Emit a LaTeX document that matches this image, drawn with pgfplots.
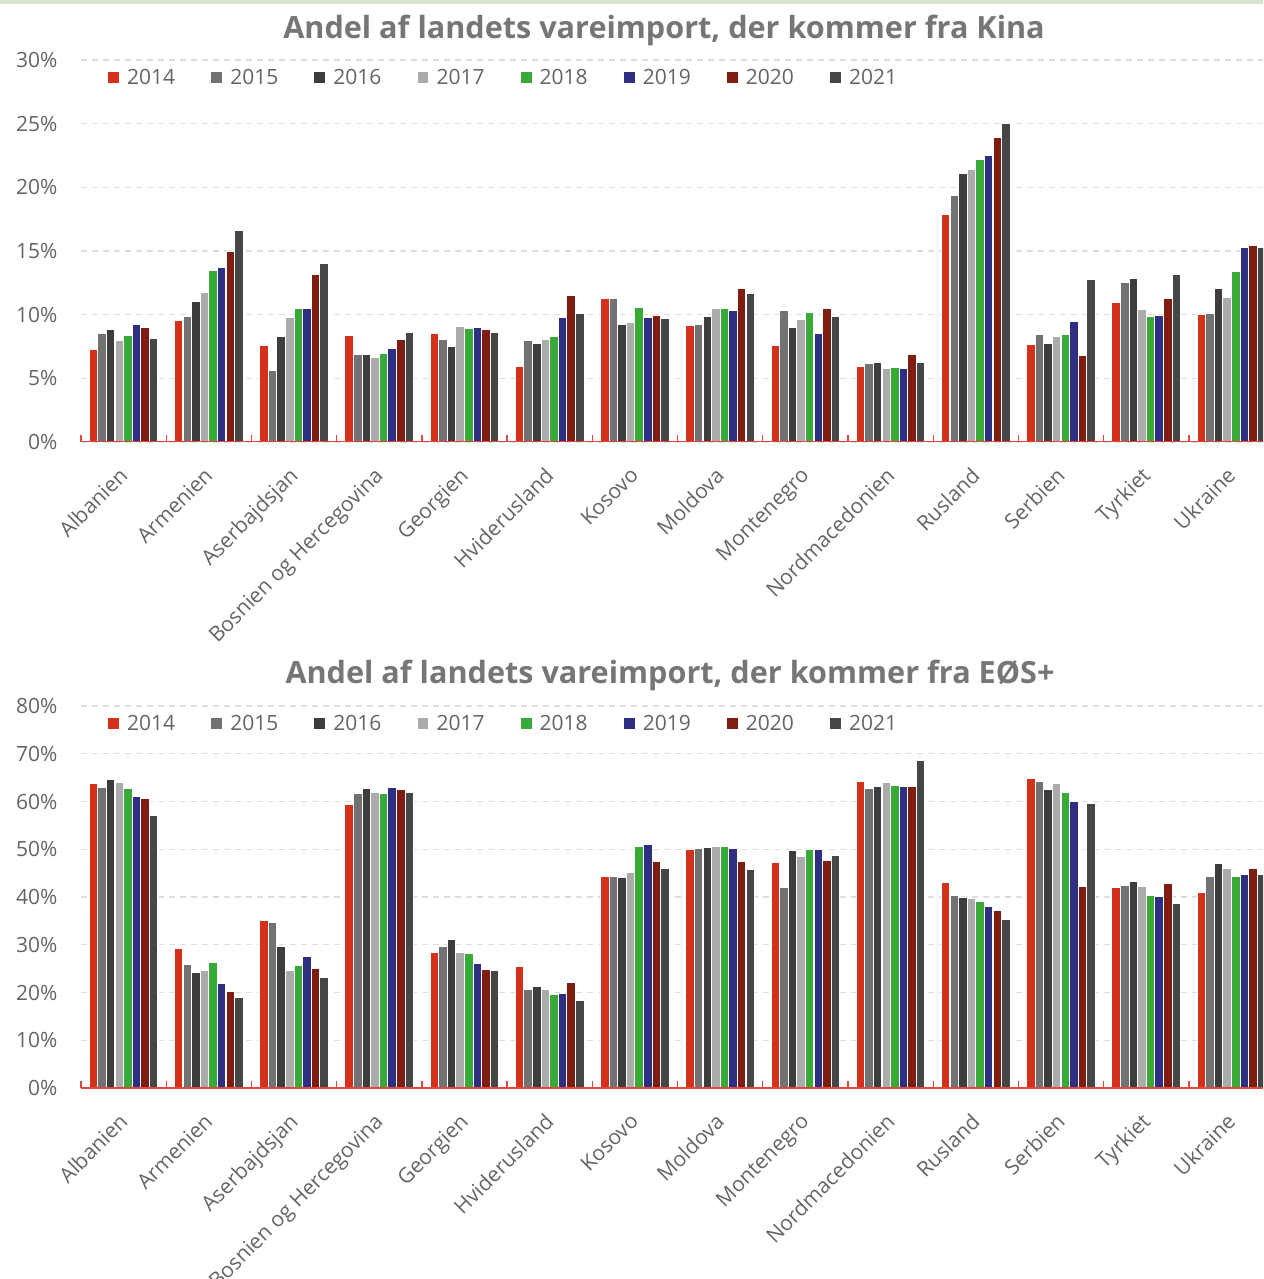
\documentclass[border=0pt]{standalone}
\usepackage{pgfplots}
\pgfplotsset{compat=1.18}
\usepackage{pgfplotstable}
\usepackage{fontspec}
\setmainfont{Open Sans}

\definecolor{c2014}{RGB}{211,49,26}
\definecolor{c2015}{RGB}{114,114,114}
\definecolor{c2016}{RGB}{61,61,61}
\definecolor{c2017}{RGB}{171,171,171}
\definecolor{c2018}{RGB}{56,170,56}
\definecolor{c2019}{RGB}{46,47,130}
\definecolor{c2020}{RGB}{127,29,17}
\definecolor{c2021}{RGB}{70,70,70}
\definecolor{axisred}{RGB}{224,72,60}
\definecolor{gridgray}{RGB}{222,222,222}
\definecolor{labelgray}{RGB}{100,100,100}
\definecolor{titlegray}{RGB}{118,118,118}
\definecolor{topband}{RGB}{216,228,208}

\pgfplotstableread{
x a b c d e f g h
0 7.30 8.53 8.85 7.98 8.40 9.21 9.03 8.17
1 9.53 9.84 11.02 11.75 13.51 13.69 14.97 16.60
2 7.59 5.60 8.27 9.76 10.45 10.52 13.19 14.06
3 8.40 6.91 6.86 6.60 6.96 7.33 8.04 8.59
4 8.53 8.04 7.49 9.08 8.90 9.03 8.85 8.59
5 5.92 7.98 7.72 8.04 8.27 9.76 11.52 10.10
6 11.26 11.26 9.27 9.35 10.58 9.76 9.90 9.71
7 9.14 9.21 9.84 10.45 10.45 10.31 12.02 11.70
8 7.59 10.31 9.03 9.66 10.16 8.53 10.52 9.84
9 5.92 6.13 6.23 5.81 5.86 5.81 6.91 6.28
10 17.85 19.35 21.07 21.44 22.20 22.51 23.93 25.00
11 7.64 8.46 7.77 8.27 8.46 9.45 6.78 12.75
12 10.94 12.51 12.83 10.39 9.84 9.90 11.26 13.14
13 10.00 10.08 12.02 11.39 13.38 15.31 15.42 15.24
}\kina

\pgfplotstableread{
x a b c d e f g h
0 63.73 62.89 64.57 63.94 62.75 61.15 60.66 57.02
1 29.28 25.79 24.18 24.67 26.21 21.80 20.20 19.01
2 35.08 34.59 29.63 24.67 25.65 27.46 25.02 23.06
3 59.47 61.64 62.75 61.91 61.64 62.89 62.47 61.85
4 28.44 29.63 31.10 28.44 28.09 26.00 24.81 24.67
5 25.44 20.68 21.17 20.55 19.50 19.78 22.15 18.31
6 44.23 44.23 44.09 45.21 50.52 51.01 47.38 45.91
7 49.90 50.17 50.31 50.52 50.66 50.17 47.52 45.70
8 47.17 42.07 49.76 48.50 49.90 49.90 47.73 48.71
9 64.29 62.75 63.10 63.94 63.45 63.10 63.10 68.62
10 43.05 40.25 39.90 39.76 39.06 38.09 37.11 35.29
11 64.92 64.29 62.61 63.80 61.91 59.96 42.21 59.68
12 42.07 42.35 43.19 42.21 40.39 40.11 42.77 38.57
13 40.88 44.37 47.03 46.05 44.23 44.72 45.91 44.72
}\eos

\newcommand{\lblfont}{\fontsize{21pt}{25pt}\selectfont}
\newcommand{\ttlfont}{\bfseries\fontsize{30.6pt}{36pt}\selectfont}

\pgfplotsset{
  mybar/.style={draw=white, line width=1.1pt,
    legend image code/.code={\fill[##1] (0pt,-6pt) rectangle (12pt,6pt);}},
  chart/.style={
    scale only axis, width=1182pt, height=382pt,
    xmin=-0.5, xmax=13.37, ymin=0,
    ybar=0pt, bar width=8.6pt,
    axis line style={draw=none},
    major tick length=0pt,
    xtick pos=lower, ytick pos=left,
    tick style={draw=axisred, line width=1.4pt},
    xtick={0,...,13},
    xticklabels={Albanien,Armenien,Aserbajdsjan,Bosnien og Hercegovina,Georgien,Hviderusland,Kosovo,Moldova,Montenegro,Nordmacedonien,Rusland,Serbien,Tyrkiet,Ukraine},
    xticklabel style={xshift=-6pt, yshift=-21pt, rotate=45, anchor=north east, font=\lblfont, text=labelgray, inner sep=2pt},
    yticklabel style={font=\lblfont, text=labelgray, anchor=east, xshift=-20pt},
    extra x ticks={-0.5,0.5,...,13.5},
    extra x tick labels={},
    extra x tick style={major tick length=7pt, tick align=inside},
    ymajorgrids,
    major grid style={draw=gridgray, line width=1.3pt, dash pattern=on 6pt off 5pt},
    legend columns=8,
    legend style={draw=none, fill=none, inner sep=0pt, font=\lblfont, text=labelgray,
      anchor=west, legend cell align=left,
      /tikz/every even column/.append style={column sep=33pt},
      /tikz/every odd column/.append style={column sep=5pt}},
    clip=true,
  }
}

\newcommand{\bars}[1]{%
  \addplot[mybar, fill=c2014] table[x=x,y=a]{#1};
  \addplot[mybar, fill=c2015] table[x=x,y=b]{#1};
  \addplot[mybar, fill=c2016] table[x=x,y=c]{#1};
  \addplot[mybar, fill=c2017] table[x=x,y=d]{#1};
  \addplot[mybar, fill=c2018] table[x=x,y=e]{#1};
  \addplot[mybar, fill=c2019] table[x=x,y=f]{#1};
  \addplot[mybar, fill=c2020] table[x=x,y=g]{#1};
  \addplot[mybar, fill=c2021] table[x=x,y=h]{#1};
  \legend{2014,2015,2016,2017,2018,2019,2020,2021}
  \draw[axisred, line width=1.6pt] (rel axis cs:0,0) -- (rel axis cs:1,0);
}

\begin{document}
\begin{tikzpicture}[x=1pt,y=1pt]
\useasboundingbox (0pt,0pt) rectangle (1263pt,1279pt);
\fill[topband] (0pt,1274.5pt) rectangle (1263pt,1279pt);

\node[font=\ttlfont, text=titlegray] at (664pt,1249pt) {Andel af landets vareimport, der kommer fra Kina};
\node[font=\ttlfont, text=titlegray] at (670pt,604pt) {Andel af landets vareimport, der kommer fra EØS+};

\begin{axis}[chart, at={(81pt,837pt)}, anchor=south west,
  ymax=30, ytick={0,5,...,30},
  yticklabels={0\%,5\%,10\%,15\%,20\%,25\%,30\%},
  legend style={at={(axis description cs:0.0219,0.955)}}]
\bars{\kina}
\end{axis}

\begin{axis}[chart, at={(81pt,191pt)}, anchor=south west,
  ymax=80, ytick={0,10,...,80},
  yticklabels={0\%,10\%,20\%,30\%,40\%,50\%,60\%,70\%,80\%},
  legend style={at={(axis description cs:0.0219,0.955)}}]
\bars{\eos}
\end{axis}
\end{tikzpicture}
\end{document}
